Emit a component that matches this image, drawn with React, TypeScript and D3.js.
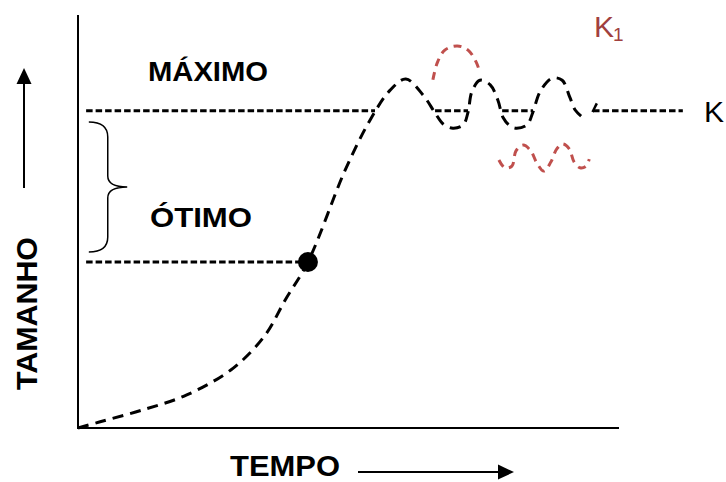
import React, { useEffect } from "react";
import * as d3 from "d3";

// Logistic growth sketch — data in abstract units (tempo 0..100, tamanho 0..100)
const growthTime = [0, 4.1, 12.0, 20.1, 28.7, 34.6, 38.3, 42.5, 49.4, 54.0, 57.7, 60.6, 63.8, 66.0, 67.5, 69.3, 71.2, 72.1, 72.8, 74.3, 76.2, 77.6, 78.6, 79.9, 81.1, 83.0, 84.1, 85.4, 87.6, 89.5, 90.9, 91.9, 93.2];
const growthSize = [0, 1.5, 4.4, 8.0, 14.5, 22.5, 31.0, 40.2, 62.5, 74.6, 81.8, 84.5, 80.6, 76.3, 73.6, 72.6, 73.4, 76.5, 81.4, 84.2, 83.1, 79.4, 75.1, 73.1, 72.6, 73.4, 76.5, 81.4, 84.7, 84.2, 80.1, 77.0, 75.3];

const tailTime = [95.1, 95.9];
const tailSize = [76.5, 78.6];

const k1UpperTime = [65.6, 66.4, 67.8, 70.1, 72.1, 73.6, 74.3];
const k1UpperSize = [84.3, 88.4, 91.5, 92.5, 91.5, 88.6, 86.0];

const k1LowerTime = [77.8, 78.9, 80.2, 80.96, 82.3, 83.7, 84.8, 86.1, 87.4, 88.5, 89.6, 90.8, 91.7, 92.8, 93.9, 94.5];
const k1LowerSize = [64.9, 63.0, 63.4, 67.1, 68.5, 67.1, 64.2, 62.2, 64.4, 67.6, 68.8, 67.6, 64.4, 63.0, 63.4, 65.1];

const capacityK = 76.8;
const kSegStart = [1.5, 66.0, 78.4, 95.2];
const kSegEnd = [54.9, 72.1, 84.1, 111.8];

const optimumSize = 40.2;
const optimumTime = 42.5;
const optimumLineStart = 1.5;

const braceTop = 74.1;
const braceBottom = 42.6;
const braceLeft = 2.0;
const braceMid = 5.5;
const braceTip = 9.1;

const W = 726;
const H = 482;
const FONT = "'Liberation Sans', Arial, Helvetica, sans-serif";

export default function App() {
  useEffect(() => {
    document.body.style.margin = "0";
  }, []);

  const x = d3.scaleLinear().domain([0, 100]).range([78, 619]);
  const y = d3.scaleLinear().domain([0, 100]).range([428, 15]);

  const lineGen = d3
    .line<[number, number]>()
    .x((d) => x(d[0]))
    .y((d) => y(d[1]))
    .curve(d3.curveCatmullRom.alpha(0.5));

  const zip = (a: number[], b: number[]) => a.map((v, i) => [v, b[i]] as [number, number]);

  const growthPath = lineGen(zip(growthTime, growthSize)) || "";
  const tailPath = d3.line()(zip(tailTime, tailSize).map((d) => [x(d[0]), y(d[1])])) || "";
  const k1UpperPath = lineGen(zip(k1UpperTime, k1UpperSize)) || "";
  const k1LowerPath = lineGen(zip(k1LowerTime, k1LowerSize)) || "";

  const bT = y(braceTop), bB = y(braceBottom), bC = (bT + bB) / 2;
  const bL = x(braceLeft), bM = x(braceMid), bX = x(braceTip);
  const r = 15;
  const bracePath = `M${bL},${bT} Q${bM},${bT} ${bM},${bT + r} L${bM},${bC - 11} Q${bM},${bC} ${bX},${bC} Q${bM},${bC} ${bM},${bC + 11} L${bM},${bB - r} Q${bM},${bB} ${bL},${bB}`;

  return (
    <svg width={W} height={H} style={{ display: "block", background: "#fff" }}>
      {/* axes */}
      <line x1={x(0)} y1={y(100)} x2={x(0)} y2={y(0) + 1} stroke="#000" strokeWidth={2} />
      <line x1={x(0)} y1={y(0)} x2={x(100)} y2={y(0)} stroke="#000" strokeWidth={2} />

      {/* capacity K dashed segments */}
      {kSegStart.map((s, i) => (
        <line key={i} x1={x(s)} x2={x(kSegEnd[i])} y1={y(capacityK)} y2={y(capacityK)} stroke="#000" strokeWidth={3} strokeDasharray="6.5 3" />
      ))}

      {/* optimum dashed line */}
      <line x1={x(optimumLineStart)} x2={x(optimumTime)} y1={y(optimumSize)} y2={y(optimumSize)} stroke="#000" strokeWidth={3} strokeDasharray="6.5 3" />

      {/* growth curve */}
      <path d={growthPath} fill="none" stroke="#000" strokeWidth={3} strokeDasharray="11 7" />
      <path d={tailPath} fill="none" stroke="#000" strokeWidth={2.5} />

      {/* K1 curves */}
      <path d={k1UpperPath} fill="none" stroke="#C0504D" strokeWidth={3} strokeDasharray="8 6" />
      <path d={k1LowerPath} fill="none" stroke="#C0504D" strokeWidth={3} strokeDasharray="8 6" />

      {/* optimum point */}
      <circle cx={x(optimumTime)} cy={y(optimumSize)} r={10} fill="#000" />

      {/* brace */}
      <path d={bracePath} fill="none" stroke="#000" strokeWidth={1.5} />

      {/* labels */}
      <text x={148} y={81} fontFamily={FONT} fontWeight="bold" fontSize={27} textLength={120} lengthAdjust="spacingAndGlyphs">MÁXIMO</text>
      <text x={150} y={227} fontFamily={FONT} fontWeight="bold" fontSize={27} textLength={102} lengthAdjust="spacingAndGlyphs">ÓTIMO</text>
      <text x={230} y={476} fontFamily={FONT} fontWeight="bold" fontSize={29} textLength={110} lengthAdjust="spacingAndGlyphs">TEMPO</text>
      <text transform="translate(37,390) rotate(-90)" fontFamily={FONT} fontWeight="bold" fontSize={30} textLength={153} lengthAdjust="spacingAndGlyphs">TAMANHO</text>
      <text x={704} y={122} fontFamily={FONT} fontSize={30}>K</text>
      <text x={594} y={37} fontFamily={FONT} fontSize={30} fill="#A0403E">K</text>
      <text x={613} y={41} fontFamily={FONT} fontSize={19} fill="#A0403E">1</text>

      {/* arrows */}
      <line x1={24} y1={188} x2={24} y2={80} stroke="#000" strokeWidth={2} />
      <path d="M24,68 L31.5,84 L16.5,84 Z" fill="#000" />
      <line x1={358} y1={472} x2={500} y2={472} stroke="#000" strokeWidth={2} />
      <path d="M514,472 L498,464.5 L498,479.5 Z" fill="#000" />
    </svg>
  );
}
